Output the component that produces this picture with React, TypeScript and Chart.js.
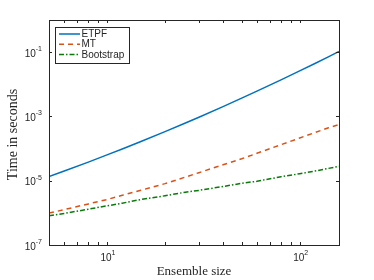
import React, { useEffect, useRef } from "react";
import { Chart, registerables } from "chart.js";
Chart.register(...registerables);

const sizes = [5, 6, 8, 10, 12, 15, 20, 25, 30, 40, 50, 60, 80, 100, 120, 140, 160];
const etpf = [1.35e-5, 2.0e-5, 3.8e-5, 6.35e-5, 9.7e-5, 1.66e-4, 3.37e-4, 5.93e-4, 9.46e-4, 2.02e-3, 3.7e-3, 6.1e-3, 1.37e-2, 2.6e-2, 4.43e-2, 7.0e-2, 0.105];
const mt = [9.8e-7, 1.26e-6, 1.9e-6, 2.6e-6, 3.52e-6, 5.05e-6, 8.1e-6, 1.25e-5, 1.78e-5, 3.12e-5, 4.8e-5, 7.13e-5, 1.32e-4, 2.13e-4, 3.14e-4, 4.37e-4, 5.58e-4];
const bootstrap = [8.1e-7, 9.6e-7, 1.3e-6, 1.65e-6, 2.0e-6, 2.6e-6, 3.4e-6, 4.3e-6, 5.0e-6, 6.6e-6, 8.3e-6, 9.6e-6, 1.33e-5, 1.65e-5, 2.0e-5, 2.4e-5, 2.8e-5];

const seriesNames = ["ETPF", "MT", "Bootstrap"];
const yTickValues = [1e-7, 1e-5, 1e-3, 1e-1];
const yTickExponents = ["-7", "-5", "-3", "-1"];
const xTickValues = [10, 100];
const xTickExponents = ["1", "2"];
const xMinorTicks = [6, 7, 8, 9, 20, 30, 40, 50, 60, 70, 80, 90];
const xTitle = "Ensemble size";
const yTitle = "Time in seconds";

const AXIS = "#262626";
const SANS = "'Liberation Sans', Arial, sans-serif";
const SERIF = "'Liberation Serif', 'Times New Roman', serif";

const matlabAxes = {
  id: "matlabAxes",
  afterDatasetsDraw(chart: any) {
    const ctx = chart.ctx;
    const a = chart.chartArea;
    const xs = chart.scales.x;
    const ys = chart.scales.y;
    ctx.save();
    ctx.strokeStyle = AXIS;
    ctx.fillStyle = AXIS;
    ctx.lineWidth = 1;
    ctx.strokeRect(Math.round(a.left) + 0.5, Math.round(a.top) + 0.5, Math.round(a.right - a.left), Math.round(a.bottom - a.top));
    const tl = 3;
    ctx.beginPath();
    [...xTickValues, ...xMinorTicks].forEach((v) => {
      const px = Math.round(xs.getPixelForValue(v)) + 0.5;
      ctx.moveTo(px, a.bottom);
      ctx.lineTo(px, a.bottom - tl);
      ctx.moveTo(px, a.top);
      ctx.lineTo(px, a.top + tl);
    });
    yTickValues.forEach((v) => {
      const py = Math.round(ys.getPixelForValue(v)) + 0.5;
      ctx.moveTo(a.left, py);
      ctx.lineTo(a.left + tl, py);
      ctx.moveTo(a.right, py);
      ctx.lineTo(a.right - tl, py);
    });
    ctx.stroke();

    const big = "10px " + SANS;
    const small = "7px " + SANS;
    ctx.textBaseline = "alphabetic";
    ctx.textAlign = "left";
    yTickValues.forEach((v, i) => {
      const py = ys.getPixelForValue(v);
      ctx.font = big;
      const w10 = ctx.measureText("10").width;
      ctx.font = small;
      const we = ctx.measureText(yTickExponents[i]).width;
      const x0 = a.left - 7 - w10 - we;
      ctx.font = big;
      ctx.fillText("10", x0, py + 4.5);
      ctx.font = small;
      ctx.fillText(yTickExponents[i], x0 + w10, py - 1);
    });
    xTickValues.forEach((v, i) => {
      const px = xs.getPixelForValue(v);
      ctx.font = big;
      const w10 = ctx.measureText("10").width;
      ctx.font = small;
      const we = ctx.measureText(xTickExponents[i]).width;
      const x0 = px - (w10 + we) / 2 + 1;
      ctx.font = big;
      ctx.fillText("10", x0, a.bottom + 16);
      ctx.font = small;
      ctx.fillText(xTickExponents[i], x0 + w10, a.bottom + 10);
    });
    ctx.textAlign = "center";
    ctx.font = "13px " + SERIF;
    ctx.fillText(xTitle, (a.left + a.right) / 2, a.bottom + 30);
    ctx.save();
    ctx.translate(16.5, (a.top + a.bottom) / 2 + 2);
    ctx.rotate(-Math.PI / 2);
    ctx.font = "14px " + SERIF;
    ctx.fillText(yTitle, 0, 0);
    ctx.restore();

    const lx = a.left + 6;
    const ly = a.top + 7;
    const lw = 74;
    const lh = 36;
    ctx.fillStyle = "#ffffff";
    ctx.fillRect(lx, ly, lw, lh);
    ctx.strokeStyle = AXIS;
    ctx.lineWidth = 1;
    ctx.strokeRect(Math.round(lx) + 0.5, Math.round(ly) + 0.5, lw, lh);
    ctx.font = "10px " + SANS;
    ctx.textAlign = "left";
    ctx.textBaseline = "middle";
    chart.data.datasets.forEach((ds: any, i: number) => {
      const yy = ly + 7 + i * 10.2;
      ctx.strokeStyle = ds.borderColor;
      ctx.lineWidth = ds.borderWidth;
      ctx.setLineDash(ds.borderDash || []);
      ctx.beginPath();
      ctx.moveTo(lx + 4, yy);
      ctx.lineTo(lx + 25, yy);
      ctx.stroke();
      ctx.setLineDash([]);
      ctx.fillStyle = AXIS;
      ctx.fillText(ds.label, lx + 26.5, yy + 0.5);
    });
    ctx.restore();
  },
};

export default function App() {
  const ref = useRef<HTMLCanvasElement | null>(null);
  useEffect(() => {
    if (!ref.current) return;
    const mk = (vals: number[]) => sizes.map((x, i) => ({ x, y: vals[i] }));
    const chart = new Chart(ref.current, {
      type: "line",
      data: {
        datasets: [
          { label: seriesNames[0], data: mk(etpf), borderColor: "#0072BD", borderWidth: 1.5, pointRadius: 0, fill: false, tension: 0 },
          { label: seriesNames[1], data: mk(mt), borderColor: "#D95319", borderWidth: 1.5, borderDash: [5, 4], pointRadius: 0, fill: false, tension: 0 },
          { label: seriesNames[2], data: mk(bootstrap), borderColor: "#0B7A0B", borderWidth: 1.5, borderDash: [5, 2, 1.5, 2], pointRadius: 0, fill: false, tension: 0 },
        ],
      },
      options: {
        animation: false,
        responsive: false,
        devicePixelRatio: 1,
        layout: { padding: { left: 49, right: 35, top: 20, bottom: 35 } },
        plugins: { legend: { display: false }, tooltip: { enabled: false } },
        scales: {
          x: { type: "logarithmic", min: 5, max: 160, display: false },
          y: { type: "logarithmic", min: 1e-7, max: 1, display: false },
        },
      },
      plugins: [matlabAxes],
    } as any);
    return () => chart.destroy();
  }, []);
  return (
    <div style={{ position: "fixed", left: 0, top: 0, width: 374, height: 280, background: "#fff" }}>
      <canvas ref={ref} width={374} height={280} />
    </div>
  );
}
